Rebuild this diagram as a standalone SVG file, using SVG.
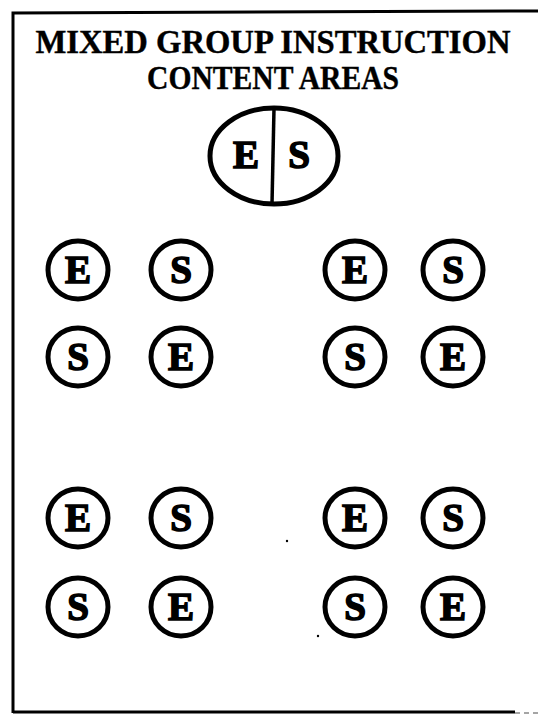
<svg xmlns="http://www.w3.org/2000/svg" width="538" height="715" viewBox="0 0 538 715">
<style>
.c{fill:none;stroke:#000;stroke-width:5}
.l{font-family:"Liberation Serif",serif;font-weight:bold;font-size:39px;text-anchor:middle;fill:#000;stroke:#000;stroke-width:1.6}
.t{font-family:"Liberation Serif",serif;font-weight:bold;font-size:33px;text-anchor:middle;fill:#000;stroke:#000;stroke-width:0.4}
.b{stroke:#000;stroke-width:3;fill:none}
</style>
<rect width="538" height="715" fill="#fff"/>
<g id="border">
<path class="b" d="M13,713 L13,13 L538,11"/>
<path class="b" d="M13,712 L515,712"/>
<path d="M515,713 L538,713" stroke="#888" stroke-width="1.5" stroke-dasharray="5,4"/>
</g>
<g id="title">
<text class="t" x="273" y="53" textLength="475" lengthAdjust="spacingAndGlyphs">MIXED GROUP INSTRUCTION</text>
<text class="t" x="273" y="89" textLength="252" lengthAdjust="spacingAndGlyphs">CONTENT AREAS</text>
</g>
<g id="content-areas">
<ellipse class="c" cx="274" cy="156" rx="64" ry="48"/>
<line x1="274" y1="108" x2="272" y2="204" stroke="#000" stroke-width="3.5"/>
<text class="l" x="246" y="168">E</text>
<text class="l" x="299" y="168">S</text>
</g>
<defs>
<ellipse id="ring" class="c" cx="0" cy="0" rx="30" ry="29"/>
</defs>
<g id="group-top-left">
<g id="n1"><use href="#ring" x="78" y="270"/><text class="l" x="78" y="283">E</text></g>
<g id="n2"><use href="#ring" x="181" y="270"/><text class="l" x="181" y="283">S</text></g>
<g id="n3"><use href="#ring" x="78" y="357"/><text class="l" x="78" y="370">S</text></g>
<g id="n4"><use href="#ring" x="181" y="357"/><text class="l" x="181" y="370">E</text></g>
</g>
<g id="group-top-right">
<g id="n5"><use href="#ring" x="355" y="270"/><text class="l" x="355" y="283">E</text></g>
<g id="n6"><use href="#ring" x="453" y="270"/><text class="l" x="453" y="283">S</text></g>
<g id="n7"><use href="#ring" x="355" y="357"/><text class="l" x="355" y="370">S</text></g>
<g id="n8"><use href="#ring" x="453" y="357"/><text class="l" x="453" y="370">E</text></g>
</g>
<g id="group-bottom-left">
<g id="n9"><use href="#ring" x="78" y="518"/><text class="l" x="78" y="531">E</text></g>
<g id="n10"><use href="#ring" x="181" y="518"/><text class="l" x="181" y="531">S</text></g>
<g id="n11"><use href="#ring" x="78" y="607"/><text class="l" x="78" y="620">S</text></g>
<g id="n12"><use href="#ring" x="181" y="607"/><text class="l" x="181" y="620">E</text></g>
</g>
<g id="group-bottom-right">
<g id="n13"><use href="#ring" x="355" y="518"/><text class="l" x="355" y="531">E</text></g>
<g id="n14"><use href="#ring" x="453" y="518"/><text class="l" x="453" y="531">S</text></g>
<g id="n15"><use href="#ring" x="355" y="607"/><text class="l" x="355" y="620">S</text></g>
<g id="n16"><use href="#ring" x="453" y="607"/><text class="l" x="453" y="620">E</text></g>
</g>
<g id="specks" fill="#000">
<circle cx="287" cy="541" r="1.2"/>
<circle cx="468" cy="542" r="0.8"/>
<circle cx="318" cy="636" r="1.2"/>
</g>
</svg>
